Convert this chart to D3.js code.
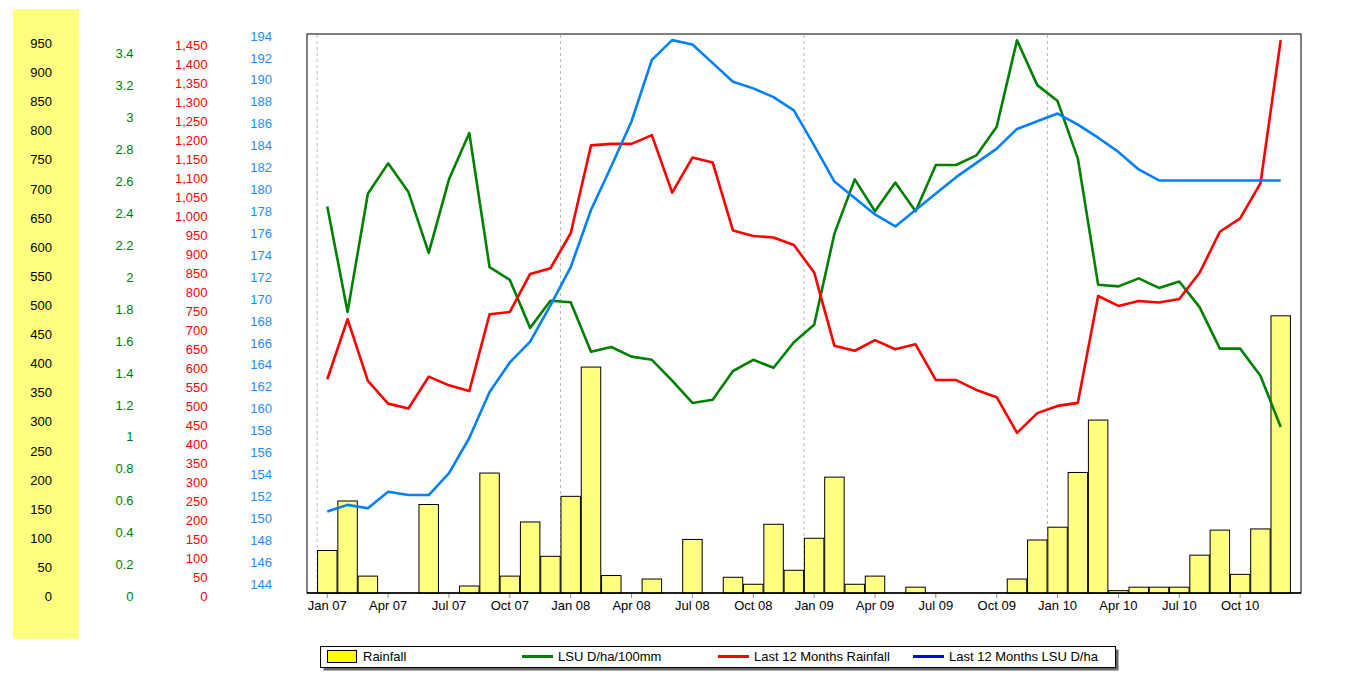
<!DOCTYPE html>
<html>
<head>
<meta charset="utf-8">
<script src="https://cdn.jsdelivr.net/npm/d3@7"></script>
<style>
    body { margin: 0; background: #fff; }
    svg text { font-family: "Liberation Sans", Arial, sans-serif; font-size: 13px; }
</style>
</head>
<body>
<svg id="svg" width="1345" height="682"></svg>
<script>
// monthly values, Jan 07 .. Dec 10
var rainfall = [73, 158, 29, 0, 0, 152, 0, 12, 206, 29, 122, 63,
    166, 388, 30, 0, 24, 0, 92, 0, 27, 15, 118, 39,
    94, 199, 15, 29, 0, 10, 0, 0, 0, 0, 24, 91,
    113, 207, 297, 4, 10, 10, 10, 65, 108, 32, 110, 476];
var lsuPer100mm = [2.42, 1.76, 2.50, 2.69, 2.51, 2.13, 2.59, 2.88, 2.04, 1.96, 1.66, 1.83,
    1.82, 1.51, 1.54, 1.48, 1.46, 1.33, 1.19, 1.21, 1.39, 1.46, 1.41, 1.57,
    1.68, 2.25, 2.59, 2.39, 2.57, 2.39, 2.68, 2.68, 2.74, 2.92, 3.46, 3.18,
    3.08, 2.72, 1.93, 1.92, 1.97, 1.91, 1.95, 1.79, 1.53, 1.53, 1.36, 1.04];
var rain12 = [562, 720, 558, 498, 485, 569, 546, 531, 733, 739, 839, 854,
    946, 1177, 1181, 1181, 1204, 1053, 1145, 1132, 953, 939, 935, 915,
    843, 650, 637, 665, 641, 654, 560, 560, 534, 515, 421, 473,
    492, 500, 781, 755, 768, 764, 773, 842, 950, 985, 1077, 1454];
var lsu12 = [150.3, 150.9, 150.6, 152.1, 151.8, 151.8, 153.8, 157.0, 161.2, 163.9, 165.8, 169.1,
    172.6, 177.8, 181.8, 185.9, 191.5, 193.3, 192.9, 191.2, 189.5, 188.9, 188.1, 186.9,
    183.7, 180.4, 178.9, 177.4, 176.3, 177.8, 179.3, 180.8, 182.1, 183.4, 185.2, 185.9,
    186.6, 185.6, 184.4, 183.1, 181.5, 180.5, 180.5, 180.5, 180.5, 180.5, 180.5, 180.5];

var xTickLabels = ['Jan 07', 'Apr 07', 'Jul 07', 'Oct 07', 'Jan 08', 'Apr 08', 'Jul 08', 'Oct 08',
    'Jan 09', 'Apr 09', 'Jul 09', 'Oct 09', 'Jan 10', 'Apr 10', 'Jul 10', 'Oct 10'];
var yearStarts = [0, 12, 24, 36];

var rainTicks = d3.range(0, 951, 50);
var lsuTicks = d3.range(0, 18).map(function(i) { return i * 0.2; });
var rain12Ticks = d3.range(0, 1451, 50);
var lsu12Ticks = d3.range(144, 195, 2);

var legendItems = [
    { label: 'Rainfall', type: 'box', color: '#ffff00', x: 327 },
    { label: 'LSU D/ha/100mm', type: 'line', color: '#008000', x: 522 },
    { label: 'Last 12 Months Rainfall', type: 'line', color: '#ff0000', x: 718 },
    { label: 'Last 12 Months LSU D/ha', type: 'line', color: '#0000ff', x: 913 }
];

var svg = d3.select('#svg');
var plot = { left: 307, right: 1301, top: 34, bottom: 593 };

var x = d3.scaleLinear().domain([-1, 48]).range([plot.left, plot.right]);
var step = x(1) - x(0);
var yRain = d3.scaleLinear().domain([0, 960]).range([plot.bottom, plot.top]);
var yLsu = d3.scaleLinear().domain([0, 3.5]).range([plot.bottom, plot.top]);
var yRain12 = d3.scaleLinear().domain([0, 1470]).range([plot.bottom, plot.top]);
var yLsu12 = d3.scaleLinear().domain([142.86, 193.86]).range([plot.bottom, plot.top]);

// yellow band behind the rainfall axis
svg.append('rect')
    .attr('x', 13).attr('y', 9)
    .attr('width', 66).attr('height', 630)
    .attr('fill', '#ffff80');

function drawAxis(scale, ticks, xPos, color, fmt) {
    var g = svg.append('g')
        .attr('transform', 'translate(' + xPos + ',3.5)')
        .call(d3.axisLeft(scale).tickValues(ticks).tickSize(0).tickPadding(0).tickFormat(fmt));
    g.select('.domain').remove();
    g.selectAll('text')
        .attr('fill', color)
        .style('font-family', '"Liberation Sans", Arial, sans-serif')
        .style('font-size', '13px');
}

drawAxis(yRain, rainTicks, 52, '#000', d3.format('d'));
drawAxis(yLsu, lsuTicks, 133.5, '#008000', function(d) { return String(+d.toFixed(1)); });
drawAxis(yRain12, rain12Ticks, 207.5, '#ff0000', d3.format(','));
drawAxis(yLsu12, lsu12Ticks, 272, '#1e8cff', d3.format('d'));

// plot frame
svg.append('rect')
    .attr('x', plot.left).attr('y', plot.top)
    .attr('width', plot.right - plot.left).attr('height', plot.bottom - plot.top)
    .attr('fill', '#fff')
    .attr('stroke', '#000')
    .attr('stroke-width', 1);

// dashed year separators
svg.selectAll('line.grid')
    .data(yearStarts)
    .enter()
    .append('line')
    .attr('class', 'grid')
    .attr('x1', function(d) { return x(d - 0.5); })
    .attr('x2', function(d) { return x(d - 0.5); })
    .attr('y1', plot.top + 1).attr('y2', plot.bottom)
    .attr('stroke', '#b8b8b8')
    .attr('stroke-dasharray', '3,3');

// bars (skip empty months)
var barData = rainfall
    .map(function(v, i) { return { i: i, v: v }; })
    .filter(function(d) { return d.v > 0; });
svg.selectAll('rect.bar')
    .data(barData)
    .enter()
    .append('rect')
    .attr('class', 'bar')
    .attr('x', function(d) { return x(d.i - 0.48); })
    .attr('y', function(d) { return yRain(d.v); })
    .attr('width', step * 0.96)
    .attr('height', function(d) { return plot.bottom - yRain(d.v); })
    .attr('fill', '#ffff80')
    .attr('stroke', '#000')
    .attr('stroke-width', 1);

// lines
function drawLine(values, scale, color) {
    var line = d3.line()
        .x(function(d, i) { return x(i); })
        .y(function(d) { return scale(d); });
    svg.append('path')
        .attr('d', line(values))
        .attr('fill', 'none')
        .attr('stroke', color)
        .attr('stroke-width', 2.6)
        .attr('stroke-linejoin', 'round');
}
drawLine(lsuPer100mm, yLsu, '#008000');
drawLine(rain12, yRain12, '#ff0000');
drawLine(lsu12, yLsu12, '#0080ff');

// bottom axis
svg.append('line')
    .attr('x1', plot.left).attr('x2', plot.right)
    .attr('y1', plot.bottom).attr('y2', plot.bottom)
    .attr('stroke', '#000').attr('stroke-width', 1.6);

var xAxis = svg.append('g')
    .selectAll('g')
    .data(xTickLabels)
    .enter()
    .append('g')
    .attr('transform', function(d, i) { return 'translate(' + x(i * 3) + ',0)'; });
xAxis.append('line')
    .attr('y1', plot.bottom + 1).attr('y2', plot.bottom + 5)
    .attr('stroke', '#888');
xAxis.append('text')
    .attr('y', 610)
    .attr('text-anchor', 'middle')
    .attr('fill', '#000')
    .text(function(d) { return d; });

// legend
var legend = svg.append('g');
legend.append('rect')
    .attr('x', 323.5).attr('y', 649.5)
    .attr('width', 795).attr('height', 21)
    .attr('fill', '#666');
legend.append('rect')
    .attr('x', 320.5).attr('y', 646.5)
    .attr('width', 795).attr('height', 21)
    .attr('fill', '#fff')
    .attr('stroke', '#000');

var item = legend.selectAll('g.item')
    .data(legendItems)
    .enter()
    .append('g')
    .attr('class', 'item')
    .attr('transform', function(d) { return 'translate(' + d.x + ',656.5)'; });
item.filter(function(d) { return d.type === 'box'; })
    .append('rect')
    .attr('x', 0.5).attr('y', -6)
    .attr('width', 29).attr('height', 12)
    .attr('fill', function(d) { return d.color; })
    .attr('stroke', '#000');
item.filter(function(d) { return d.type === 'line'; })
    .append('line')
    .attr('x1', 0).attr('x2', 31)
    .attr('stroke', function(d) { return d.color; })
    .attr('stroke-width', 3);
item.append('text')
    .attr('x', 36)
    .attr('dy', '0.35em')
    .attr('fill', '#000')
    .text(function(d) { return d.label; });
</script>
</body>
</html>
